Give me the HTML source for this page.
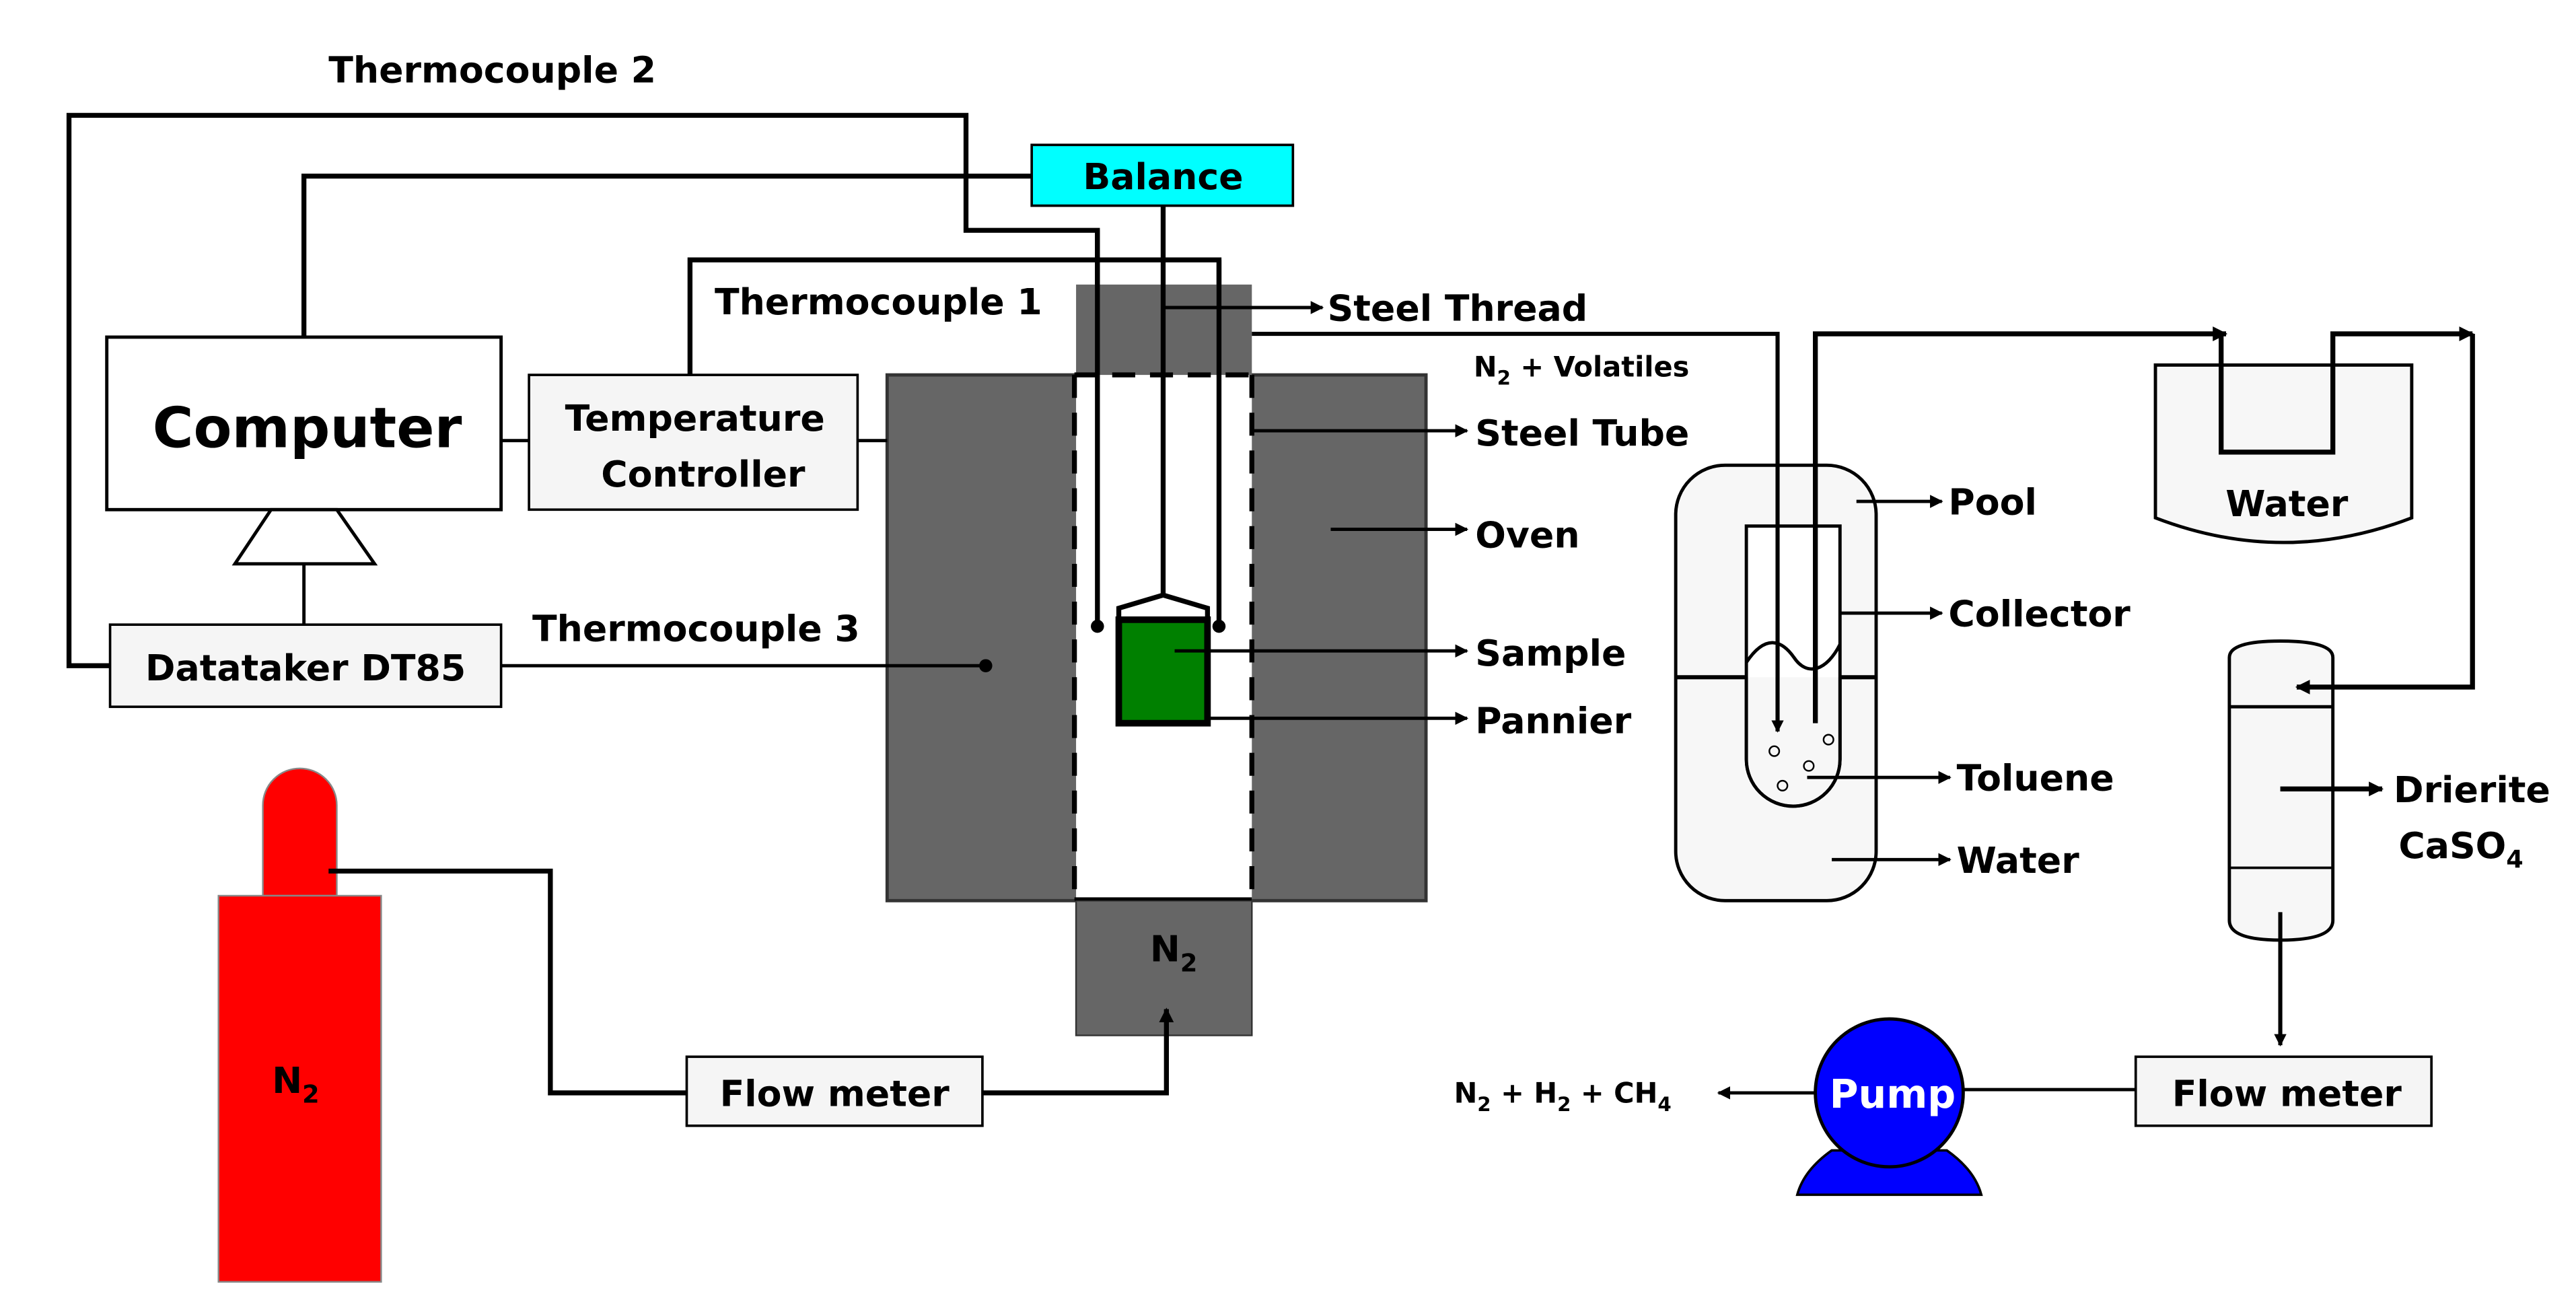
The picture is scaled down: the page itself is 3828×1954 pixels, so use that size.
<!DOCTYPE html>
<html><head><style>html,body{margin:0;padding:0;background:#fff}svg{display:block}</style></head>
<body>
<svg width="3828" height="1954" viewBox="0 0 1568 800" xmlns="http://www.w3.org/2000/svg" font-family="'DejaVu Sans','Liberation Sans',sans-serif" font-weight="bold">
<defs>
<marker id="a" viewBox="0 0 10 10" refX="9" refY="5" markerWidth="4" markerHeight="4" orient="auto"><path d="M0,0L10,5L0,10z" fill="#000"/></marker>
<marker id="b" viewBox="0 0 10 10" refX="9" refY="5" markerWidth="3" markerHeight="3" orient="auto"><path d="M0,0L10,5L0,10z" fill="#000"/></marker>
</defs>
<rect width="1568" height="800" fill="#fff"/>
<g stroke="#000" stroke-width="3" fill="none">
<polyline points="67,405 42,405 42,70 588,70 588,140 668,140 668,380"/>
<polyline points="185,205 185,107 628,107"/>
<polyline points="420,228 420,158 742,158 742,380"/>
</g>
<!-- oven -->
<rect x="540" y="228" width="328" height="320" fill="#666" stroke="#333" stroke-width="2"/>
<rect x="655" y="173" width="107" height="55" fill="#666"/>
<rect x="655" y="548" width="107" height="82" fill="#666" stroke="#333" stroke-width="1"/>
<rect x="655" y="228" width="107" height="320" fill="#fff"/>
<g stroke="#000" stroke-width="3" stroke-dasharray="14,9" fill="none">
<line x1="654" y1="228" x2="654" y2="548"/><line x1="762" y1="228" x2="762" y2="548"/>
<line x1="654" y1="228" x2="762" y2="228"/>
</g>
<line x1="654" y1="547" x2="762" y2="547" stroke="#000" stroke-width="2"/>
<g stroke="#000" stroke-width="3" fill="none">
<line x1="668" y1="140" x2="668" y2="380"/><line x1="742" y1="158" x2="742" y2="380"/>
<line x1="708" y1="125" x2="708" y2="362"/>
</g>
<circle cx="668" cy="381" r="4" fill="#000"/><circle cx="742" cy="381" r="4" fill="#000"/>
<rect x="628" y="88" width="159" height="37" fill="#00ffff" stroke="#000" stroke-width="1.5"/>
<text x="708" y="115" font-size="22" text-anchor="middle">Balance</text>
<polygon points="681,370 708,362 735,370 735,377 681,377" fill="#fff" stroke="#000" stroke-width="3"/>
<rect x="681" y="377" width="54" height="63" fill="#008000" stroke="#000" stroke-width="4"/>
<g stroke="#000" stroke-width="2" fill="none" marker-end="url(#a)">
<line x1="708" y1="187" x2="805" y2="187"/>
<line x1="762" y1="262" x2="893" y2="262"/>
<line x1="810" y1="322" x2="893" y2="322"/>
<line x1="715" y1="396" x2="893" y2="396"/>
<line x1="735" y1="437" x2="893" y2="437"/>
</g>
<g font-size="22">
<text x="808" y="195">Steel Thread</text>
<text x="898" y="271">Steel Tube</text>
<text x="898" y="333">Oven</text>
<text x="898" y="405">Sample</text>
<text x="898" y="446">Pannier</text>
<text x="200" y="50">Thermocouple 2</text>
<text x="435" y="191">Thermocouple 1</text>
<text x="324" y="390">Thermocouple 3</text>
</g>
<text x="897" y="229" font-size="17">N<tspan font-size="12" dy="5">2</tspan><tspan dy="-5"> + Volatiles</tspan></text>
<!-- computer -->
<rect x="65" y="205" width="240" height="105" fill="#fff" stroke="#000" stroke-width="2"/>
<text x="187" y="272" font-size="34" text-anchor="middle">Computer</text>
<polygon points="165,310 205,310 228,343 143,343" fill="#fff" stroke="#000" stroke-width="2"/>
<line x1="185" y1="343" x2="185" y2="380" stroke="#000" stroke-width="2"/>
<rect x="67" y="380" width="238" height="50" fill="#f5f5f5" stroke="#000" stroke-width="1.5"/>
<text x="186" y="414" font-size="22" text-anchor="middle">Datataker DT85</text>
<line x1="305" y1="405" x2="600" y2="405" stroke="#000" stroke-width="2"/>
<circle cx="600" cy="405" r="4" fill="#000"/>
<rect x="322" y="228" width="200" height="82" fill="#f5f5f5" stroke="#000" stroke-width="1.5"/>
<text x="423" y="262" font-size="22" text-anchor="middle">Temperature</text>
<text x="428" y="296" font-size="22" text-anchor="middle">Controller</text>
<line x1="305" y1="268" x2="322" y2="268" stroke="#000" stroke-width="2"/>
<line x1="522" y1="268" x2="540" y2="268" stroke="#000" stroke-width="2"/>
<!-- N2 cylinder -->
<path d="M160,545 L160,490 A22,22 0 0 1 205,490 L205,545 Z" fill="#f00" stroke="#888" stroke-width="1"/>
<rect x="133" y="545" width="99" height="235" fill="#f00" stroke="#888" stroke-width="1"/>
<text x="180" y="665" font-size="22" text-anchor="middle">N<tspan font-size="15" dy="6">2</tspan></text>
<polyline points="200,530 335,530 335,665 418,665" stroke="#000" stroke-width="3" fill="none"/>
<rect x="418" y="643" width="180" height="42" fill="#f5f5f5" stroke="#000" stroke-width="1.5"/>
<text x="508" y="673" font-size="22" text-anchor="middle">Flow meter</text>
<polyline points="598,665 710,665 710,614" stroke="#000" stroke-width="3" fill="none" marker-end="url(#b)"/>
<text x="700" y="585" font-size="22">N<tspan font-size="15" dy="6">2</tspan></text>
<!-- pool -->
<rect x="1020" y="283" width="122" height="265" rx="30" fill="#f7f7f7" stroke="#000" stroke-width="2"/>
<path d="M1063,320 L1120,320 L1120,462 A28.5,28.5 0 0 1 1063,462 Z" fill="#fff" stroke="#000" stroke-width="2"/>
<path d="M1064,412 L1064,462 A27.5,27.5 0 0 0 1119,462 L1119,412 Z" fill="#f7f7f7" stroke="none"/>
<path d="M1063,412 L1063,462 A28.5,28.5 0 0 0 1120,462 L1120,412" fill="none" stroke="#000" stroke-width="2"/>
<line x1="1020" y1="412" x2="1063" y2="412" stroke="#000" stroke-width="2.5"/>
<line x1="1120" y1="412" x2="1142" y2="412" stroke="#000" stroke-width="2.5"/>
<path d="M1063,403 C1075,385 1085,390 1092,400 C1100,412 1112,408 1120,392" fill="none" stroke="#000" stroke-width="2"/>
<g fill="none" stroke="#000" stroke-width="1"><circle cx="1080" cy="457" r="3"/><circle cx="1101" cy="466" r="3"/><circle cx="1113" cy="450" r="3"/><circle cx="1085" cy="478" r="3"/></g>
<polyline points="762,203 1082,203 1082,445" stroke="#000" stroke-width="2.5" fill="none" marker-end="url(#b)"/>
<polyline points="1105,440 1105,203 1355,203" stroke="#000" stroke-width="3" fill="none" marker-end="url(#b)"/>
<path d="M1312,222 L1468,222 L1468,315 Q1390,345 1312,315 Z" fill="#f7f7f7" stroke="#000" stroke-width="2"/>
<polyline points="1352,203 1352,275 1420,275 1420,203 1505,203" stroke="#000" stroke-width="3" fill="none" marker-end="url(#b)"/>
<text x="1392" y="314" font-size="22" text-anchor="middle">Water</text>
<path d="M1357,400 Q1357,390 1388,390 Q1420,390 1420,400 L1420,560 Q1420,572 1388,572 Q1357,572 1357,560 Z" fill="#f7f7f7" stroke="#000" stroke-width="2"/>
<line x1="1357" y1="430" x2="1420" y2="430" stroke="#000" stroke-width="2"/>
<line x1="1357" y1="528" x2="1420" y2="528" stroke="#000" stroke-width="1.5"/>
<polyline points="1505,203 1505,418 1398,418" stroke="#000" stroke-width="3" fill="none" marker-end="url(#b)"/>
<line x1="1388" y1="480" x2="1450" y2="480" stroke="#000" stroke-width="3" marker-end="url(#b)"/>
<line x1="1388" y1="555" x2="1388" y2="636" stroke="#000" stroke-width="2.5" marker-end="url(#b)"/>
<g stroke="#000" stroke-width="2" fill="none" marker-end="url(#a)">
<line x1="1130" y1="305" x2="1182" y2="305"/>
<line x1="1120" y1="373" x2="1182" y2="373"/>
<line x1="1100" y1="473" x2="1187" y2="473"/>
<line x1="1115" y1="523" x2="1187" y2="523"/>
</g>
<g font-size="22">
<text x="1186" y="313">Pool</text>
<text x="1186" y="381">Collector</text>
<text x="1191" y="481">Toluene</text>
<text x="1191" y="531">Water</text>
<text x="1457" y="488">Drierite</text>
<text x="1460" y="522">CaSO<tspan font-size="15" dy="6">4</tspan></text>
</g>
<rect x="1300" y="643" width="180" height="42" fill="#f5f5f5" stroke="#000" stroke-width="1.5"/>
<text x="1392" y="673" font-size="22" text-anchor="middle">Flow meter</text>
<line x1="1195" y1="663" x2="1300" y2="663" stroke="#000" stroke-width="2"/>
<path d="M1115,700 Q1098,712 1094,727 L1206,727 Q1202,712 1185,700 Z" fill="#0000ff" stroke="#000" stroke-width="1.5"/>
<circle cx="1150" cy="665" r="45" fill="#0000ff" stroke="#000" stroke-width="2"/>
<text x="1152" y="674" font-size="24" fill="#fff" text-anchor="middle">Pump</text>
<line x1="1105" y1="665" x2="1046" y2="665" stroke="#000" stroke-width="2" marker-end="url(#a)"/>
<text x="885" y="671" font-size="17">N<tspan font-size="12" dy="5">2</tspan><tspan dy="-5"> + H</tspan><tspan font-size="12" dy="5">2</tspan><tspan dy="-5"> + CH</tspan><tspan font-size="12" dy="5">4</tspan></text>
</svg>
</body></html>
